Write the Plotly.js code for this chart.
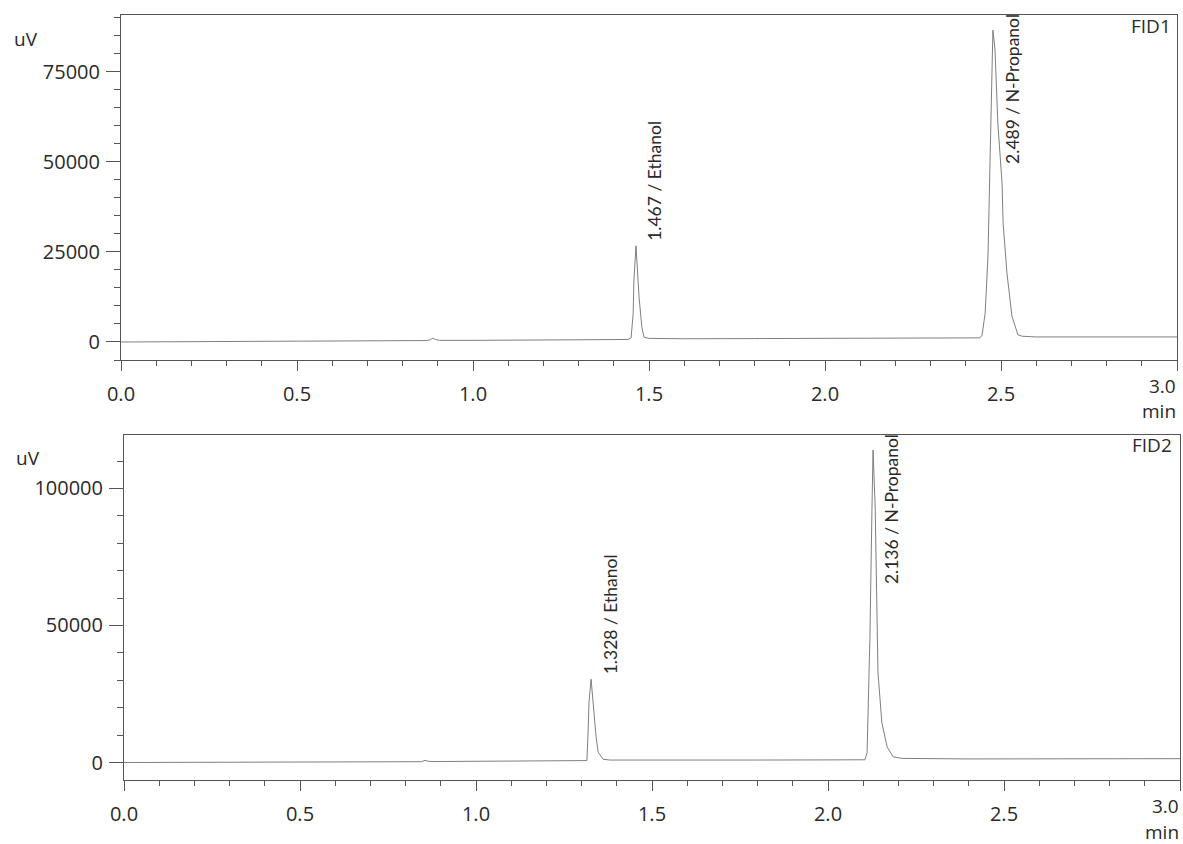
<!DOCTYPE html>
<html>
<head>
<meta charset="utf-8">
<script src="https://cdn.plot.ly/plotly-3.0.1.min.js"></script>
<style>html,body{margin:0;padding:0;background:#fff;}#chart{width:1183px;height:844px;}</style>
</head>
<body>
<div id="chart"></div>
<script>
// ---- FID1 trace (time in min, signal in uV) ----
const fid1Time = [0.00,0.20,0.40,0.60,0.80,0.870,0.880,0.886,0.893,0.905,1.00,1.20,1.40,1.440,1.449,1.455,1.457,1.463,1.469,1.472,1.480,1.486,1.500,1.530,1.60,1.80,2.00,2.20,2.40,2.440,2.446,2.455,2.463,2.469,2.474,2.477,2.483,2.491,2.503,2.506,2.517,2.531,2.548,2.560,2.600,2.800,3.000];
const fid1Signal = [0,100,150,250,350,400,700,1100,700,450,450,550,650,700,1100,7800,16900,26700,16900,12200,3900,1300,1000,950,900,950,1000,1050,1100,1150,1800,8000,23800,51600,79400,86600,81100,60800,44100,33000,19100,7200,2000,1600,1400,1350,1400];

// ---- FID2 trace ----
const fid2Time = [0.00,0.20,0.40,0.60,0.80,0.845,0.855,0.862,0.875,1.00,1.20,1.30,1.315,1.318,1.321,1.327,1.332,1.341,1.347,1.361,1.380,1.50,1.80,2.00,2.105,2.111,2.114,2.119,2.125,2.128,2.134,2.139,2.142,2.153,2.168,2.185,2.210,2.40,2.70,3.00];
const fid2Signal = [0,50,100,150,250,300,800,500,350,400,500,550,700,9600,22000,30400,22000,9600,3800,1200,900,850,900,950,1000,3500,20300,44800,93300,114000,93300,56800,32800,14500,5700,2100,1500,1300,1300,1400];

// ---- Peak labels ----
const fid1PeakRT = [1.467, 2.489];
const fid1PeakName = ['Ethanol', 'N-Propanol'];
const fid1LabelPlace = ['apex', 'top'];
const fid2PeakRT = [1.328, 2.136];
const fid2PeakName = ['Ethanol', 'N-Propanol'];
const fid2LabelPlace = ['apex', 'top'];

// ---- Axis ticks ----
const xTickVals = [0, 0.5, 1.0, 1.5, 2.0, 2.5, 3.0];
const xTickText = ['0.0', '0.5', '1.0', '1.5', '2.0', '2.5', ''];
const fid1YTicks = [0, 25000, 50000, 75000];
const fid2YTicks = [0, 50000, 100000];

const lineCol = '#555';
const txtCol = '#2a2a2a';
const tickFont = {family: 'Open Sans, Noto Sans, sans-serif', size: 20, color: txtCol};
const labelFont = {family: 'Lato, sans-serif', size: 17.5, color: txtCol};

function apexOf(times, sig, rt) {
  let best = -1, bt = rt, bv = 0;
  for (let i = 0; i < times.length; i++) {
    if (Math.abs(times[i] - rt) < 0.03 && sig[i] > best) { best = sig[i]; bt = times[i]; bv = sig[i]; }
  }
  return [bt, bv];
}

const traces = [
  {x: fid1Time, y: fid1Signal, xaxis: 'x', yaxis: 'y', mode: 'lines', line: {color: '#707070', width: 0.9}, hoverinfo: 'skip'},
  {x: fid2Time, y: fid2Signal, xaxis: 'x2', yaxis: 'y2', mode: 'lines', line: {color: '#707070', width: 0.9}, hoverinfo: 'skip'}
];

const annotations = [];
function addPeakLabels(rts, names, places, times, sig, xr, yr) {
  rts.forEach((rt, i) => {
    const [at, av] = apexOf(times, sig, rt);
    const a = {
      x: at, xref: xr, text: rt.toFixed(3) + ' / ' + names[i], textangle: -90,
      showarrow: false, font: labelFont, xanchor: 'center', xshift: 19
    };
    if (places[i] === 'apex') { a.y = av; a.yref = yr; a.yanchor = 'bottom'; a.yshift = 3; }
    else { a.y = 1; a.yref = yr + ' domain'; a.yanchor = 'top'; a.yshift = 3; }
    annotations.push(a);
  });
}
addPeakLabels(fid1PeakRT, fid1PeakName, fid1LabelPlace, fid1Time, fid1Signal, 'x', 'y');
addPeakLabels(fid2PeakRT, fid2PeakName, fid2LabelPlace, fid2Time, fid2Signal, 'x2', 'y2');

const W = 1183, H = 844;
function txt(text, px, py, xa) {
  annotations.push({text: text, x: px / W, y: 1 - py / H, xref: 'paper', yref: 'paper',
    xanchor: xa, yanchor: 'middle', showarrow: false, font: {family: 'Open Sans, Noto Sans, sans-serif', size: 19, color: txtCol}});
}
txt('uV', 12, 39, 'left');
txt('FID1', 1173, 26, 'right');
txt('3.0', 1178, 386, 'right');
txt('min', 1178, 411, 'right');
txt('uV', 14, 458, 'left');
txt('FID2', 1174, 445, 'right');
txt('3.0', 1181, 806, 'right');
txt('min', 1181, 832, 'right');

function xax(domain) {
  return {
    domain: domain, range: [0, 3], tickvals: xTickVals, ticktext: xTickText,
    showline: true, mirror: true, linecolor: lineCol, linewidth: 1,
    ticks: 'outside', ticklen: 10, tickcolor: lineCol, tickwidth: 1,
    minor: {dtick: 0.1, ticks: 'outside', ticklen: 5, tickcolor: lineCol, tickwidth: 1},
    showgrid: false, zeroline: false, tickfont: tickFont, ticklabelstandoff: 6, fixedrange: true
  };
}
function yax(domain, range, tv, minorStep) {
  return {
    domain: domain, range: range, tickvals: tv, ticktext: tv.map(String),
    showline: true, mirror: true, linecolor: lineCol, linewidth: 1,
    ticks: 'outside', ticklen: 14, tickcolor: lineCol, tickwidth: 1,
    minor: {dtick: minorStep, ticks: 'outside', ticklen: 6, tickcolor: lineCol, tickwidth: 1},
    showgrid: false, zeroline: false, tickfont: tickFont, ticklabelstandoff: 2, fixedrange: true
  };
}

const layout = {
  width: W, height: H, margin: {l: 0, r: 0, t: 0, b: 0},
  paper_bgcolor: '#fff', plot_bgcolor: '#fff', showlegend: false,
  xaxis: Object.assign(xax([121 / W, 1177 / W]), {anchor: 'y'}),
  yaxis: Object.assign(yax([1 - 360 / H, 1 - 15 / H], [-5000, 90800], fid1YTicks, 5000), {anchor: 'x'}),
  xaxis2: Object.assign(xax([124 / W, 1180 / W]), {anchor: 'y2'}),
  yaxis2: Object.assign(yax([1 - 779.5 / H, 1 - 435 / H], [-6200, 119500], fid2YTicks, 10000), {anchor: 'x2'}),
  annotations: annotations
};

Plotly.newPlot('chart', traces, layout, {displayModeBar: false, staticPlot: true});
</script>
</body>
</html>
